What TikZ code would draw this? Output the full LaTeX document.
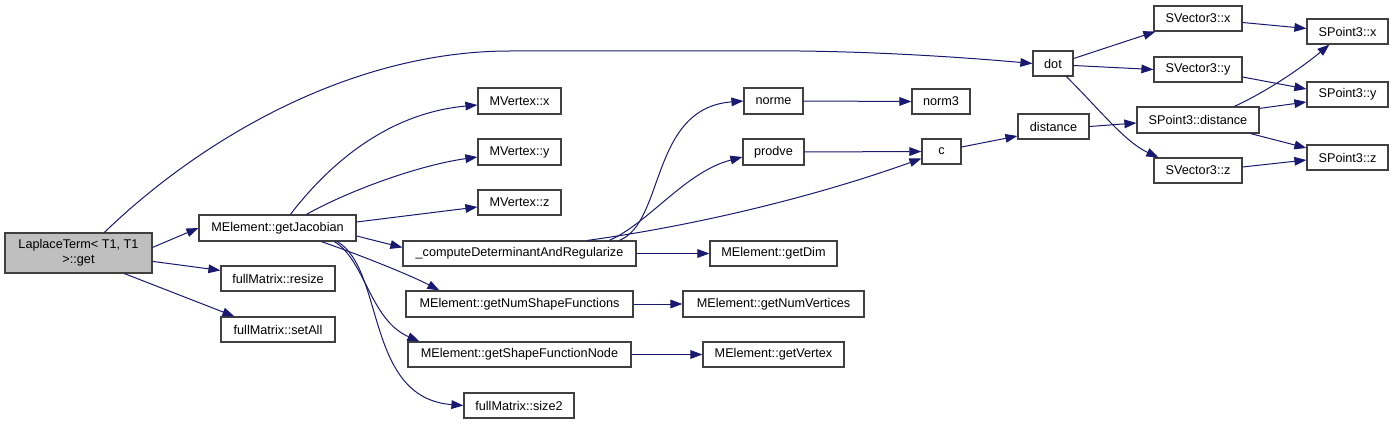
\documentclass[tikz,border=0pt]{standalone}
\usepackage{fontspec}
\setmainfont{Liberation Sans}
\usetikzlibrary{arrows.meta,calc}
\definecolor{edgecol}{HTML}{191970}
\definecolor{rootfill}{HTML}{BFBFBF}
\definecolor{bord}{HTML}{404040}
\tikzset{
 box/.style={draw=bord, line width=0.9pt, fill=white, inner sep=0pt, font=\fontsize{9.5}{11}\selectfont, align=center},
 call/.style={draw=edgecol, line width=0.75pt, -{Triangle[length=9pt,width=6.5pt]}},
}
\newcommand\mkbox[7][]{%
 \pgfmathsetmacro\bw{(#5-#3)*0.75}%
 \pgfmathsetmacro\bh{(#6-#4)*0.75}%
 \node[box,#1,minimum width=\bw pt,minimum height=\bh pt] (#2) at ({(#3+#5)/2},{(#4+#6)/2}) {#7};}
\begin{document}
\begin{tikzpicture}[x=0.75pt,y=-0.75pt]
\useasboundingbox (0,0) rectangle (1393,424);
\mkbox[fill=rootfill]{root}{5}{233}{152}{273}{LaplaceTerm< T1, T1\\>::get}
\mkbox{jac}{199}{215}{356}{241}{MElement::getJacobian}
\mkbox{resize}{221}{266}{335}{291}{fullMatrix::resize}
\mkbox{setall}{221}{317}{335}{342}{fullMatrix::setAll}
\mkbox{mvx}{478}{88}{561}{114}{MVertex::x}
\mkbox{mvy}{478}{139}{561}{165}{MVertex::y}
\mkbox{mvz}{478}{190}{561}{215}{MVertex::z}
\mkbox{comp}{403}{241}{636}{266}{\_computeDeterminantAndRegularize}
\mkbox{gnsf}{406}{291}{633}{317}{MElement::getNumShapeFunctions}
\mkbox{gsfn}{408}{342}{631}{367}{MElement::getShapeFunctionNode}
\mkbox{size2}{464}{393}{574}{418}{fullMatrix::size2}
\mkbox{getdim}{710}{241}{837}{266}{MElement::getDim}
\mkbox{gnv}{683}{291}{864}{317}{MElement::getNumVertices}
\mkbox{gv}{703}{342}{844}{367}{MElement::getVertex}
\mkbox{norme}{744}{88}{803}{114}{norme}
\mkbox{prodve}{743}{139}{804}{165}{prodve}
\mkbox{norm3}{912}{89}{970}{114}{norm3}
\mkbox{c}{922}{139}{961}{164}{c}
\mkbox{dot}{1033}{51}{1073}{76}{dot}
\mkbox{distance}{1018}{114}{1089}{139}{distance}
\mkbox{svx}{1154}{6}{1242}{31}{SVector3::x}
\mkbox{svy}{1154}{57}{1242}{82}{SVector3::y}
\mkbox{svz}{1154}{158}{1242}{183}{SVector3::z}
\mkbox{spd}{1137}{107}{1259}{133}{SPoint3::distance}
\mkbox{spx}{1307}{19}{1388}{44}{SPoint3::x}
\mkbox{spy}{1307}{82}{1388}{107}{SPoint3::y}
\mkbox{spz}{1307}{145}{1388}{170}{SPoint3::z}
% root calls
\draw[call] ($(root.north east)+(0,15)$) -- (jac.west);
\draw[call] ($(root.north east)+(0,29)$) -- ($(resize.north west)+(0,5)$);
\draw[call] ($(root.south west)+(120,0)$) -- ($(setall.north west)+(14,0)$);
\draw[call] ($(root.north west)+(100,0)$) .. controls (200,140) and (350,51) .. (510,51) -- (800,51) .. controls (880,52) and (960,57) .. (dot.west);
% getJacobian calls
\draw[call] ($(jac.north west)+(92,0)$) .. controls (340,150) and (400,112) .. ($(mvx.west)+(0,4)$);
\draw[call] ($(jac.north west)+(108,0)$) .. controls (350,190) and (420,165) .. ($(mvy.west)+(0,5)$);
\draw[call] ($(jac.east)+(0,-6)$) -- ($(mvz.west)+(0,4.5)$);
\draw[call] ($(jac.east)+(0,8)$) -- ($(comp.west)+(0,-6)$);
\draw[call] ($(jac.south west)+(123,0)$) .. controls (360,255) and (410,275) .. ($(gnsf.north west)+(34,0)$);
\draw[call] ($(jac.south west)+(136,0)$) .. controls (365,260) and (370,320) .. ($(gsfn.north west)+(12,0)$);
\draw[call] ($(jac.south west)+(139,0)$) .. controls (385,270) and (365,398) .. (size2.west);
% compute calls
\draw[call] ($(comp.north west)+(217,0)$) .. controls (665,222) and (650,108) .. (norme.west);
\draw[call] ($(comp.north west)+(207,0)$) .. controls (650,222) and (685,172) .. ($(prodve.west)+(0,5)$);
\draw[call] ($(comp.north west)+(185,0)$) .. controls (700,225) and (820,195) .. ($(c.west)+(0,7)$);
\draw[call] (comp.east) -- (getdim.west);
\draw[call] (gnsf.east) -- (gnv.west);
\draw[call] (gsfn.east) -- (gv.west);
\draw[call] (norme.east) -- (norm3.west);
\draw[call] (prodve.east) -- (c.west);
\draw[call] ($(c.east)+(0,-4.5)$) -- ($(distance.west)+(0,9.5)$);
\draw[call] (distance.east) -- ($(spd.west)+(0,3)$);
% dot calls
\draw[call] ($(dot.east)+(0,-5)$) -- ($(svx.south west)+(2,0)$);
\draw[call] ($(dot.east)+(0,2)$) -- (svy.west);
\draw[call] ($(dot.south west)+(34,0)$) .. controls (1100,110) and (1125,142) .. ($(svz.north west)+(5,0)$);
% SVector3 / SPoint3
\draw[call] ($(svx.east)+(0,4)$) -- ($(spx.west)+(0,-3)$);
\draw[call] ($(svy.east)+(0,7.5)$) -- ($(spy.west)+(0,-5.5)$);
\draw[call] ($(svz.east)+(0,-3.5)$) -- ($(spz.west)+(0,2.5)$);
\draw[call] ($(spd.north west)+(98,0)$) .. controls (1270,90) and (1305,65) .. ($(spx.south west)+(23,0)$);
\draw[call] ($(spd.north east)+(0,2)$) -- ($(spy.west)+(0,7.5)$);
\draw[call] ($(spd.south east)+(-9,0)$) -- ($(spz.west)+(0,-9.5)$);
\end{tikzpicture}
\end{document}
